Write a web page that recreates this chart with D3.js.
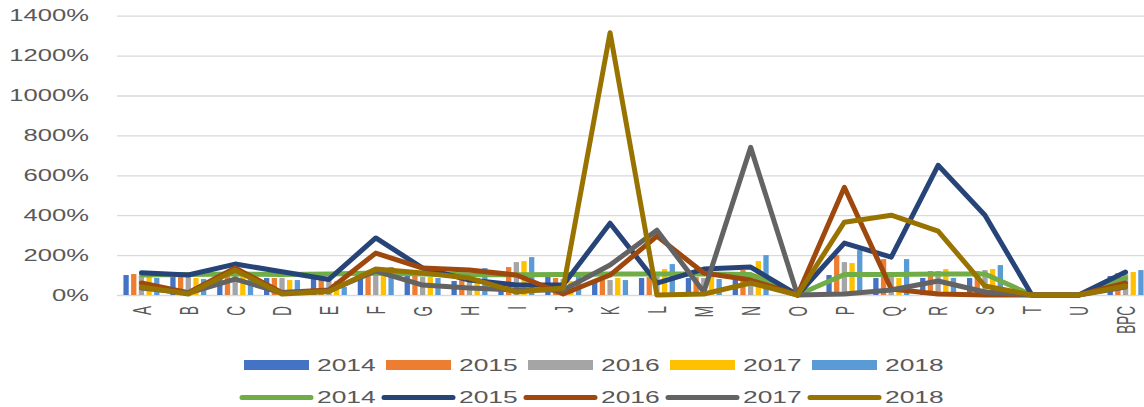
<!DOCTYPE html>
<html>
<head>
<meta charset="utf-8">
<script src="https://cdn.jsdelivr.net/npm/d3@7"></script>
<style>
  body { margin: 0; background: #fff; }
  svg { display: block; font-family: "Liberation Sans", Arial, sans-serif; }
</style>
</head>
<body>
<svg width="1144" height="407"></svg>
<script>
var categories = ["A","B","C","D","E","F","G","H","I","J","K","L","M","N","O","P","Q","R","S","T","U","BPC"];
var years = ["2014","2015","2016","2017","2018"];
var yTicks = [0, 200, 400, 600, 800, 1000, 1200, 1400];

// bar series (percent)
var bar2014 = [100, 90,100, 85, 90, 90,100, 70, 60, 90, 75, 85, 85, 85, 0,100, 85, 85, 85, 0, 0, 95];
var bar2015 = [105, 90,110, 85, 85,120,100, 85,140, 85, 75, 90, 90,125, 0,200,180,120,120, 0, 0,110];
var bar2016 = [ 95, 90,120, 85, 85,120, 90, 90,165, 80, 75,100, 85,100, 0,165,100,120,125, 0, 0,105];
var bar2017 = [ 90, 85,100, 75, 70,100, 90, 85,170, 70, 85,130, 95,170, 0,160, 85,130,130, 0, 0,115];
var bar2018 = [ 85, 80,100, 75, 40,140, 85,135,190,105, 75,155, 80,200, 0,225,180, 85,150, 0, 0,125];

// line series (percent)
var line2014 = [100,103,105,103,105,110,105,102,102,103,105,105,105,103, 0,103,103,105,105, 0, 0, 85];
var line2015 = [112,100,155,117, 78,286,135, 75, 50, 50,360, 60,130,140, 0,260,190,650,400, 0, 0,115];
var line2016 = [ 60, 12,135, 12, 25,210,135,125,100,  5,100,295,110, 75, 0,540, 30,  5,  0, 0, 0, 60];
var line2017 = [ 35, 10, 80, 10, 20,120, 50, 35, 25, 25,150,325, 15,740, 0,  5, 25, 70, 15, 0, 0, 40];
var line2018 = [ 40,  5,125,  5, 18,130,110, 85, 15, 35,1315, 0,  5, 60, 0,365,400,320, 45, 0, 0, 45];

var barColors = ["#4472C4", "#ED7D31", "#A5A5A5", "#FFC000", "#5B9BD5"];
var lineColors = ["#70AD47", "#264478", "#9E480E", "#636363", "#997300"];
var textColor = "#595959";
var stretch = 1.6;

var svg = d3.select("svg");

var x = d3.scaleBand().domain(categories).range([118, 1149]);
var y = d3.scaleLinear().domain([0, 1400]).range([295, 15.7]);

var barData = [bar2014, bar2015, bar2016, bar2017, bar2018];
var lineData = [line2014, line2015, line2016, line2017, line2018];

var groupW = 36;
var x1 = d3.scaleBand().domain(years).range([0, groupW]).paddingInner(0.31);
var groupOff = (x.bandwidth() - groupW) / 2;

// y axis with gridlines
var yAxis = svg.append("g")
    .attr("transform", "translate(117,0)")
    .call(d3.axisLeft(y).tickValues(yTicks).tickSize(-1030).tickFormat(function(d) { return d + "%"; }));
yAxis.select(".domain").remove();
yAxis.selectAll(".tick line").attr("stroke", "#d9d9d9").attr("stroke-width", 1.3);
yAxis.selectAll(".tick text")
    .attr("x", 0)
    .attr("transform", "translate(-28,0) scale(" + stretch + ",1)")
    .attr("fill", textColor)
    .style("font-size", "16px");

// bars
years.forEach(function(yr, i) {
  svg.append("g").selectAll("rect")
    .data(barData[i])
    .enter().append("rect")
    .attr("x", function(d, j) { return x(categories[j]) + groupOff + x1(yr); })
    .attr("y", function(d) { return y(d); })
    .attr("width", x1.bandwidth())
    .attr("height", function(d) { return y(0) - y(d); })
    .attr("fill", barColors[i]);
});

// lines
var line = d3.line()
    .x(function(d, j) { return x(categories[j]) + x.bandwidth() / 2; })
    .y(function(d) { return y(d); });

lineData.forEach(function(vals, i) {
  svg.append("path")
    .datum(vals)
    .attr("d", line)
    .attr("fill", "none")
    .attr("stroke", lineColors[i])
    .attr("stroke-width", 5)
    .attr("stroke-linejoin", "round")
    .attr("stroke-linecap", "round");
});

// x axis labels
var xAxis = svg.append("g")
    .attr("transform", "translate(0,295)")
    .call(d3.axisBottom(x).tickSize(0).tickPadding(0));
xAxis.select(".domain").remove();
xAxis.selectAll(".tick text")
    .attr("y", 0)
    .attr("dy", null)
    .attr("text-anchor", "end")
    .attr("dominant-baseline", "central")
    .attr("transform", "translate(0,11) scale(1.9,1) rotate(-90)")
    .attr("fill", textColor)
    .style("font-size", "13.5px");

// legend
var legend = svg.append("g");
years.forEach(function(yr, i) {
  var lx = 244 + i * 142;
  legend.append("rect")
    .attr("x", lx).attr("y", 360)
    .attr("width", 65).attr("height", 10)
    .attr("fill", barColors[i]);
  legend.append("text")
    .attr("transform", "translate(" + (lx + 73) + ",371) scale(1.65,1)")
    .attr("fill", textColor)
    .style("font-size", "16px")
    .text(yr);

  legend.append("line")
    .attr("x1", lx - 2).attr("x2", lx + 67)
    .attr("y1", 397.5).attr("y2", 397.5)
    .attr("stroke", lineColors[i])
    .attr("stroke-width", 5)
    .attr("stroke-linecap", "round");
  legend.append("text")
    .attr("transform", "translate(" + (lx + 73) + ",403) scale(1.65,1)")
    .attr("fill", textColor)
    .style("font-size", "16px")
    .text(yr);
});
</script>
</body>
</html>
